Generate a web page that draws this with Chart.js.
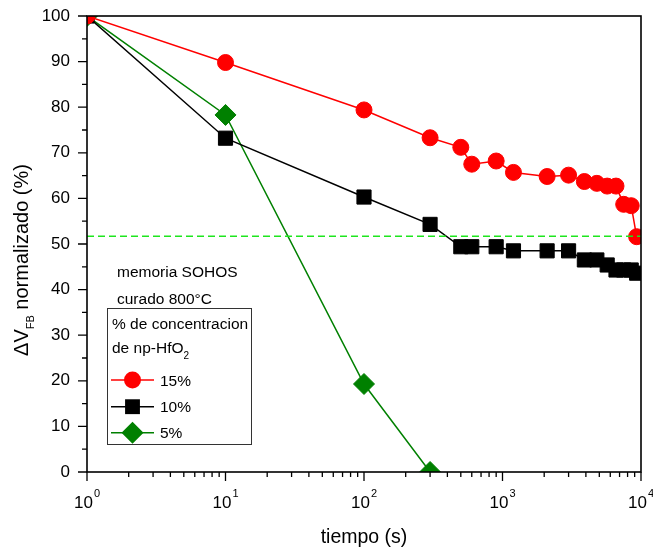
<!DOCTYPE html>
<html>
<head>
<meta charset="utf-8">
<script src="https://cdn.jsdelivr.net/npm/chart.js@4.4.1/dist/chart.umd.min.js"></script>
<style>
  html, body { margin: 0; padding: 0; background: #fff; }
  #chart { display: block; }
</style>
</head>
<body>
<canvas id="chart" width="653" height="550"></canvas>
<script>
const FONT = '"Liberation Sans", Arial, sans-serif';

// tiempo (s) compartido por las series de 15% y 10%
const tiempo = [1, 10, 100, 300, 500, 600, 900, 1200, 2100, 3000, 3900, 4800, 5700, 6600, 7500, 8500, 9300];
const conc15 = [100, 89.8, 79.4, 73.3, 71.2, 67.5, 68.2, 65.7, 64.8, 65.1, 63.7, 63.3, 62.7, 62.7, 58.7, 58.4, 51.6];
const conc10 = [100, 73.2, 60.3, 54.3, 49.4, 49.4, 49.4, 48.5, 48.5, 48.5, 46.5, 46.5, 45.4, 44.3, 44.3, 44.3, 43.6];
const tiempo5 = [1, 10, 100, 300];
const conc5 = [100, 78.3, 19.3, 0];
const umbralX = [1, 10000];
const umbral = 51.7;

const xDecadas = [0, 1, 2, 3, 4];
const yTicks = [0, 10, 20, 30, 40, 50, 60, 70, 80, 90, 100];

function pts(xs, ys) {
    return xs.map((x, i) => ({ x: x, y: Array.isArray(ys) ? ys[i] : ys }));
}

function drawMarker(ctx, style, x, y, r) {
    ctx.beginPath();
    if (style === "circle") {
        ctx.arc(x, y, r, 0, Math.PI * 2);
    } else if (style === "rect") {
        const s = r * Math.SQRT1_2;
        ctx.rect(x - s, y - s, 2 * s, 2 * s);
    } else {
        ctx.moveTo(x, y - r); ctx.lineTo(x + r, y); ctx.lineTo(x, y + r); ctx.lineTo(x - r, y);
        ctx.closePath();
    }
    ctx.fill();
}

const decor = {
    id: "decor",
    afterDraw(chart) {
        const ctx = chart.ctx;
        const a = chart.chartArea;
        const xs = chart.scales.x, ys = chart.scales.y;
        ctx.save();

        // marco
        ctx.strokeStyle = "#000";
        ctx.lineWidth = 1.6;
        ctx.strokeRect(a.left, a.top, a.right - a.left, a.bottom - a.top);

        // marcas de los ejes
        ctx.lineWidth = 1.3;
        ctx.beginPath();
        for (let v = 0; v <= 100; v += 5) {
            const y = ys.getPixelForValue(v);
            const len = v % 10 === 0 ? 9 : 5;
            ctx.moveTo(a.left, y); ctx.lineTo(a.left - len, y);
        }
        xDecadas.forEach(e => {
            for (let k = 1; k <= 9; k++) {
                if (e === 4 && k > 1) break;
                const x = xs.getPixelForValue(k * Math.pow(10, e));
                const len = k === 1 ? 9 : 5;
                ctx.moveTo(x, a.bottom); ctx.lineTo(x, a.bottom + len);
            }
        });
        ctx.stroke();

        // etiquetas del eje x con exponente
        ctx.fillStyle = "#000";
        ctx.textBaseline = "alphabetic";
        ctx.textAlign = "left";
        xDecadas.forEach(e => {
            const x = xs.getPixelForValue(Math.pow(10, e));
            ctx.font = "17px " + FONT;
            const wb = ctx.measureText("10").width;
            ctx.font = "11px " + FONT;
            const we = ctx.measureText(String(e)).width;
            const x0 = x - (wb + we + 1) / 2;
            ctx.font = "17px " + FONT;
            ctx.fillText("10", x0, 508);
            ctx.font = "11px " + FONT;
            ctx.fillText(String(e), x0 + wb + 1, 497);
        });

        // titulo eje x
        ctx.font = "19.5px " + FONT;
        ctx.textAlign = "center";
        ctx.fillText("tiempo (s)", (a.left + a.right) / 2, 543);

        // titulo eje y: ΔV_FB normalizado (%)
        ctx.save();
        ctx.translate(28, 260);
        ctx.rotate(-Math.PI / 2);
        ctx.textAlign = "left";
        const big = "20px " + FONT, small = "11px " + FONT;
        ctx.font = big;
        const w1 = ctx.measureText("\u0394V").width;
        const w3 = ctx.measureText(" normalizado (%)").width;
        ctx.font = small;
        const w2 = ctx.measureText("FB").width;
        let cx = -(w1 + w2 + w3) / 2;
        ctx.font = big; ctx.fillText("\u0394V", cx, 0); cx += w1;
        ctx.font = small; ctx.fillText("FB", cx, 6); cx += w2;
        ctx.font = big; ctx.fillText(" normalizado (%)", cx, 0);
        ctx.restore();

        // anotaciones
        ctx.textAlign = "left";
        ctx.font = "15.5px " + FONT;
        ctx.fillText("memoria SOHOS", 117, 276.5);
        ctx.fillText("curado 800\u00B0C", 117, 303.5);

        // leyenda
        ctx.strokeStyle = "#333";
        ctx.lineWidth = 1;
        ctx.strokeRect(107.5, 308.5, 144, 136);
        ctx.fillText("% de concentracion", 112, 329);
        ctx.fillText("de np-HfO", 112, 352.5);
        const wh = ctx.measureText("de np-HfO").width;
        ctx.font = "10px " + FONT;
        ctx.fillText("2", 112 + wh, 359);

        const filas = [380, 406.7, 432.7];
        chart.data.datasets.filter(d => d.leyenda).forEach((d, i) => {
            const y = filas[i];
            ctx.strokeStyle = d.borderColor;
            ctx.lineWidth = d.borderWidth;
            ctx.beginPath(); ctx.moveTo(111, y); ctx.lineTo(154, y); ctx.stroke();
            ctx.fillStyle = d.pointBackgroundColor;
            drawMarker(ctx, d.pointStyle, 132.5, y, d.pointRadius + 0.5);
            ctx.fillStyle = "#000";
            ctx.font = "15.5px " + FONT;
            ctx.fillText(d.label, 160, y + 5.6);
        });

        ctx.restore();
    }
};

function serie(label, xs, ys, color, style, radius) {
    return {
        label: label,
        leyenda: true,
        data: pts(xs, ys),
        borderColor: color,
        backgroundColor: color,
        pointBackgroundColor: color,
        pointBorderColor: color,
        pointBorderWidth: 1,
        pointStyle: style,
        pointRadius: radius,
        borderWidth: 1.5,
        tension: 0,
        clip: 0
    };
}

new Chart(document.getElementById("chart"), {
    type: "line",
    data: {
        datasets: [
            {
                label: "umbral",
                data: pts(umbralX, umbral),
                borderColor: "#1ee61e",
                borderDash: [7, 4],
                borderWidth: 1.6,
                pointRadius: 0,
                clip: 0
            },
            serie("15%", tiempo, conc15, "#ff0000", "circle", 8),
            serie("10%", tiempo, conc10, "#000000", "rect", 10),
            serie("5%", tiempo5, conc5, "#008000", "rectRot", 10.5)
        ]
    },
    options: {
        responsive: false,
        devicePixelRatio: 1,
        animation: false,
        layout: { padding: { top: 16, right: 12, bottom: 0, left: 0 } },
        plugins: { legend: { display: false }, tooltip: { enabled: false } },
        scales: {
            x: {
                type: "logarithmic",
                min: 1,
                max: 10000,
                grid: { display: false, drawTicks: false },
                border: { display: false },
                ticks: { display: false },
                afterFit: s => { s.height = 78; s.paddingLeft = 0; s.paddingRight = 0; }
            },
            y: {
                min: 0,
                max: 100,
                grid: { display: false, drawTicks: false },
                border: { display: false },
                afterBuildTicks: s => { s.ticks = yTicks.map(v => ({ value: v })); },
                ticks: {
                    padding: 17,
                    color: "#000",
                    font: { family: FONT, size: 17 }
                },
                afterFit: s => { s.width = 87; s.paddingTop = 0; s.paddingBottom = 0; }
            }
        }
    },
    plugins: [decor]
});
</script>
</body>
</html>
